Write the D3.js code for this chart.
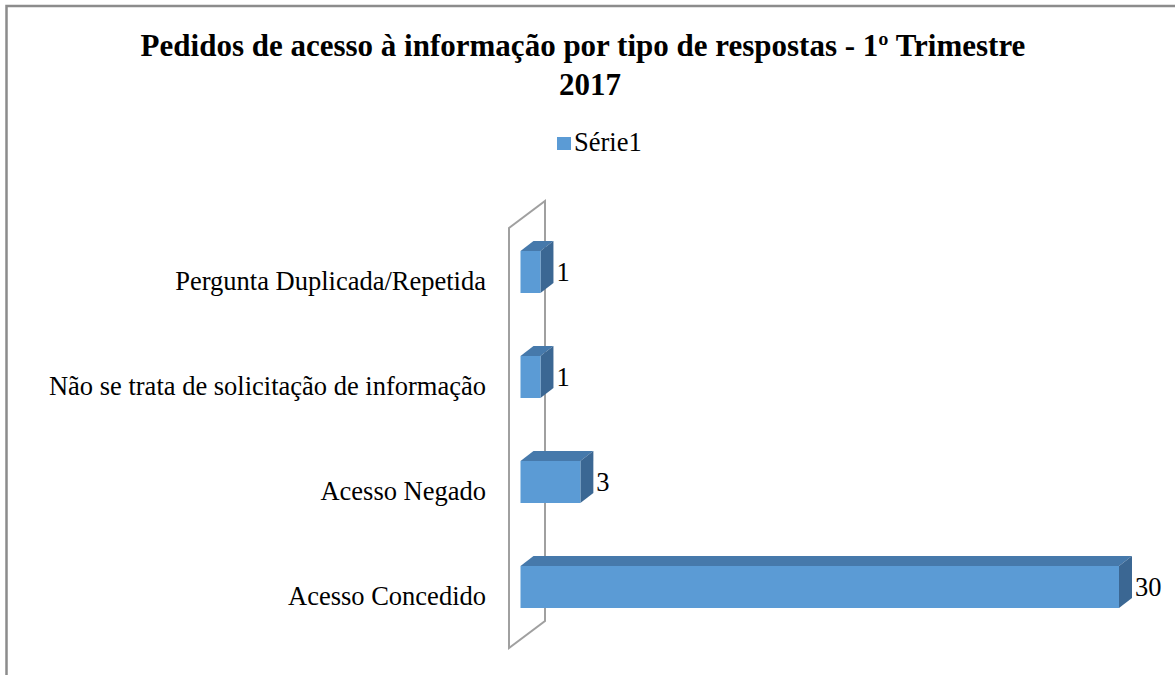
<!DOCTYPE html>
<html><head><meta charset="utf-8">
<script src="https://cdn.jsdelivr.net/npm/d3@7"></script>
<style>body{margin:0;background:#fff}svg{display:block}text{font-family:"Liberation Serif","Times New Roman",serif;fill:#000}</style>
</head><body>
<svg id="c" width="1175" height="675"></svg>
<script>
const categories = ["Pergunta Duplicada/Repetida","Não se trata de solicitação de informação","Acesso Negado","Acesso Concedido"];
const values = [1, 1, 3, 30];
const seriesName = "Série1";
const titleLines = ["Pedidos de acesso à informação por tipo de respostas - 1º Trimestre","2017"];

const svg = d3.select("#c");
// outer border
svg.append("rect").attr("x",6.5).attr("y",6).attr("width",1300).attr("height",800)
  .attr("fill","none").attr("stroke","#8c8c8c").attr("stroke-width",2.5);

// title
svg.append("text").attr("x",583).attr("y",56).attr("text-anchor","middle")
  .style("font-size","31px").style("font-weight","bold").text(titleLines[0]);
svg.append("text").attr("x",590).attr("y",95).attr("text-anchor","middle")
  .style("font-size","31px").style("font-weight","bold").text(titleLines[1]);

// legend
svg.append("rect").attr("x",557).attr("y",137).attr("width",14).attr("height",13).attr("fill","#5B9BD5");
svg.append("text").attr("x",574).attr("y",151).style("font-size","26.5px").text(seriesName);

// geometry
const wallDX = 36, wallDY = -27;   // depth of the plot
const barDX = 13, barDY = -10;     // depth of each bar
const offX = (wallDX - barDX)/2, offY = (wallDY - barDY)/2;
const wallX = 509;
const y = d3.scaleBand().domain(categories).range([228, 648]).paddingInner(0.6).paddingOuter(0.3);
const x = d3.scaleLinear().domain([0, 30]).range([wallX + offX, 1119]);

// wall (side plane)
const yTop = 228, yBot = 648;
svg.append("path")
  .attr("d", `M${wallX},${yBot} L${wallX},${yTop} L${wallX+wallDX},${yTop+wallDY} L${wallX+wallDX},${yBot+wallDY} Z`)
  .attr("fill","none").attr("stroke","#a0a0a0").attr("stroke-width",2);

// category labels (axis)
const axis = d3.axisLeft(y).tickSize(0).tickPadding(0);
const gA = svg.append("g").attr("transform",`translate(486,0)`).call(axis);
gA.select(".domain").remove();
gA.selectAll("text").style("font-size","26.5px").style("font-family","'Liberation Serif',serif")
  .attr("fill","#000").attr("dy","0.36em");

// bars
const bars = svg.append("g").selectAll("g").data(values).join("g");
bars.each(function(v,i){
  const g = d3.select(this);
  const x0 = x(0), x1 = x(v);
  const yt = y(categories[i]) + offY, yb = yt + y.bandwidth();
  g.append("path").attr("d",`M${x0},${yt} L${x1},${yt} L${x1+barDX},${yt+barDY} L${x0+barDX},${yt+barDY} Z`).attr("fill","#4679AB");
  g.append("path").attr("d",`M${x1},${yt} L${x1+barDX},${yt+barDY} L${x1+barDX},${yb+barDY} L${x1},${yb} Z`).attr("fill","#3B6793");
  g.append("rect").attr("x",x0).attr("y",yt).attr("width",x1-x0).attr("height",yb-yt).attr("fill","#5B9BD5");
  g.append("text").attr("x",x1+barDX+3).attr("y",(yt+yb)/2+9).style("font-size","26.5px").text(v);
});
</script>
</body></html>
